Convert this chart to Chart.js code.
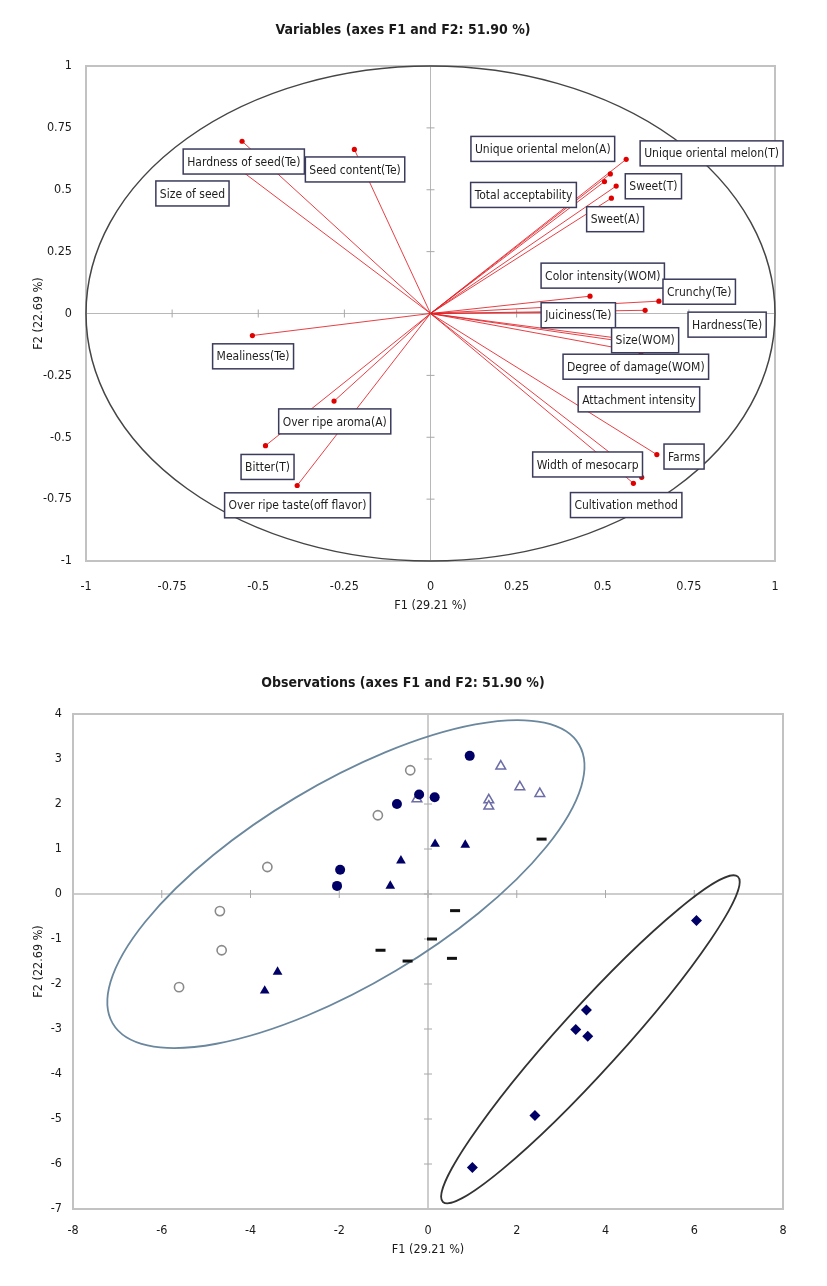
<!DOCTYPE html>
<html>
<head>
<meta charset="utf-8">
<script src="https://cdn.jsdelivr.net/npm/chart.js@4.4.0/dist/chart.umd.min.js"></script>
<style>
body{margin:0;background:#fff;}
#wrap{position:relative;width:827px;height:1286px;}
canvas{position:absolute;left:0;}
</style>
</head>
<body>
<div id="wrap">
<canvas id="kanvasUst" width="827" height="625" style="top:0"></canvas>
<canvas id="kanvasAlt" width="827" height="646" style="top:640px"></canvas>
</div>
<script>
// ---- correlation circle (variables) ----
var degiskenler = ["Hardness of seed(Te)","Seed content(Te)","Size of seed","Unique oriental melon(A)","Unique oriental melon(T)",
  "Total acceptability","Sweet(T)","Sweet(A)","Color intensity(WOM)","Crunchy(Te)","Juiciness(Te)","Hardness(Te)",
  "Size(WOM)","Degree of damage(WOM)","Attachment intensity","Farms","Width of mesocarp","Cultivation method",
  "Mealiness(Te)","Over ripe aroma(A)","Bitter(T)","Over ripe taste(off flavor)"];
var degF1 = [-0.547,-0.221,-0.600,0.522,0.568,0.505,0.539,0.525,0.463,0.663,0.437,0.623,0.655,0.611,0.693,0.657,0.613,0.589,-0.517,-0.280,-0.479,-0.387];
var degF2 = [0.696,0.663,0.630,0.564,0.623,0.533,0.515,0.466,0.070,0.050,0.005,0.013,-0.120,-0.157,-0.140,-0.570,-0.662,-0.686,-0.089,-0.354,-0.534,-0.695];
var etiketF1 = [-0.542,-0.219,-0.691,0.326,0.816,0.270,0.647,0.536,0.500,0.780,0.429,0.861,0.623,0.596,0.605,0.736,0.456,0.568,-0.515,-0.278,-0.473,-0.386];
var etiketF2 = [0.614,0.582,0.485,0.665,0.647,0.479,0.514,0.381,0.153,0.088,-0.007,-0.045,-0.108,-0.215,-0.347,-0.578,-0.610,-0.774,-0.173,-0.436,-0.620,-0.775];
var ustTikler = [-1,-0.75,-0.5,-0.25,0,0.25,0.5,0.75,1];
var ustTikEtiket = ["-1","-0.75","-0.5","-0.25","0","0.25","0.5","0.75","1"];

// ---- observations ----
var acikDaireF1 = [-0.40,-1.13,-3.62,-4.69,-4.65,-5.61];
var acikDaireF2 = [2.75,1.75,0.60,-0.38,-1.25,-2.07];
var doluDaireF1 = [0.94,-0.20,0.15,-0.70,-1.98,-2.05];
var doluDaireF2 = [3.07,2.21,2.15,2.00,0.54,0.18];
var acikUcgenF1 = [-0.25,1.64,2.07,2.52,1.37,1.37];
var acikUcgenF2 = [2.11,2.84,2.38,2.23,2.09,1.95];
var doluUcgenF1 = [0.16,0.84,-0.61,-0.85,-3.39,-3.68];
var doluUcgenF2 = [1.11,1.09,0.74,0.18,-1.73,-2.15];
var tireF1 = [2.56,0.61,0.09,0.54,-1.07,-0.46];
var tireF2 = [1.22,-0.37,-1.00,-1.43,-1.25,-1.49];
var karoF1 = [6.05,3.57,3.33,3.60,2.41,1.00];
var karoF2 = [-0.59,-2.58,-3.01,-3.16,-4.92,-6.08];
// confidence ellipses: centre, semi-axes, angle (deg)
var elipsMerkezF1 = [-1.85,3.66];
var elipsMerkezF2 = [0.22,-3.23];
var elipsA = [6.10,4.91];
var elipsB = [2.23,0.70];
var elipsAci = [30.5,47.4];
var altXTikler = [-8,-6,-4,-2,0,2,4,6,8];
var altXTikEtiket = ["-8","-6","-4","-2","0","2","4","6","8"];
var altYTikler = [-7,-6,-5,-4,-3,-2,-1,0,1,2,3,4];
var altYTikEtiket = ["-7","-6","-5","-4","-3","-2","-1","0","1","2","3","4"];

var baslikUst = "Variables (axes F1 and F2: 51.90 %)";
var baslikAlt = "Observations (axes F1 and F2: 51.90 %)";
var eksenF1 = "F1 (29.21 %)";
var eksenF2 = "F2 (22.69 %)";

var YAZI = "'Liberation Sans Narrow','DejaVu Sans Condensed','Liberation Sans',sans-serif";
var LACIVERT = "#000066";

function pt(f1,f2){ return f1.map(function(v,i){return {x:v,y:f2[i]};}); }

// frame + axes through the origin with little ticks
function cerceveEklenti(cizgiRenk,cizgiKalin){
  return {
    id:'cerceve',
    beforeDatasetsDraw:function(chart){
      var ctx=chart.ctx,a=chart.chartArea,x=chart.scales.x,y=chart.scales.y;
      var x0=x.getPixelForValue(0),y0=y.getPixelForValue(0);
      ctx.save();
      ctx.strokeStyle=cizgiRenk;ctx.lineWidth=cizgiKalin;
      ctx.beginPath();
      ctx.moveTo(a.left,y0);ctx.lineTo(a.right,y0);
      ctx.moveTo(x0,a.top);ctx.lineTo(x0,a.bottom);
      ctx.stroke();
      ctx.lineWidth=1;ctx.strokeStyle='#a8a8a8';
      ctx.beginPath();
      x.ticks.forEach(function(t){var p=x.getPixelForValue(t.value);ctx.moveTo(p,y0-4);ctx.lineTo(p,y0+4);});
      y.ticks.forEach(function(t){var p=y.getPixelForValue(t.value);ctx.moveTo(x0-4,p);ctx.lineTo(x0+4,p);});
      ctx.stroke();
      ctx.strokeStyle='#c2c2c2';ctx.lineWidth=2;
      ctx.strokeRect(a.left,a.top,a.right-a.left,a.bottom-a.top);
      ctx.restore();
    }
  };
}
function baslikEklenti(metin,yPos){
  return {
    id:'baslik',
    afterDraw:function(chart){
      var ctx=chart.ctx;
      ctx.save();
      ctx.font="bold 14px "+YAZI;ctx.fillStyle='#1a1a1a';
      ctx.textAlign='center';ctx.textBaseline='middle';
      ctx.fillText(metin,403,yPos);
      ctx.restore();
    }
  };
}

var daireEklenti = {
  id:'daire',
  beforeDatasetsDraw:function(chart){
    var ctx=chart.ctx,x=chart.scales.x,y=chart.scales.y;
    var cx=x.getPixelForValue(0),cy=y.getPixelForValue(0);
    ctx.save();
    ctx.strokeStyle='#454545';ctx.lineWidth=1.5;
    ctx.beginPath();
    ctx.ellipse(cx,cy,x.getPixelForValue(1)-cx,cy-y.getPixelForValue(1),0,0,Math.PI*2);
    ctx.stroke();
    ctx.restore();
  }
};
var etiketEklenti = {
  id:'etiket',
  afterDatasetsDraw:function(chart){
    var ctx=chart.ctx,x=chart.scales.x,y=chart.scales.y;
    ctx.save();
    ctx.font="12px "+YAZI;ctx.textAlign='center';ctx.textBaseline='middle';
    degiskenler.forEach(function(ad,i){
      var cx=x.getPixelForValue(etiketF1[i]),cy=y.getPixelForValue(etiketF2[i]);
      var w=ctx.measureText(ad).width+8,h=25;
      ctx.fillStyle='#fff';ctx.fillRect(cx-w/2,cy-h/2,w,h);
      ctx.strokeStyle='#3b3b5c';ctx.lineWidth=1.5;ctx.strokeRect(cx-w/2,cy-h/2,w,h);
      ctx.fillStyle='#1e1e1e';ctx.fillText(ad,cx,cy+1);
    });
    ctx.restore();
  }
};
var elipsEklenti = {
  id:'elips',
  beforeDatasetsDraw:function(chart){
    var ctx=chart.ctx,x=chart.scales.x,y=chart.scales.y,a=chart.chartArea;
    var renk=['#6a879d','#333333'];
    ctx.save();
    ctx.beginPath();ctx.rect(a.left,a.top,a.right-a.left,a.bottom-a.top);ctx.clip();
    elipsA.forEach(function(ea,i){
      var cx=x.getPixelForValue(elipsMerkezF1[i]),cy=y.getPixelForValue(elipsMerkezF2[i]);
      var sx=x.getPixelForValue(1)-x.getPixelForValue(0),sy=y.getPixelForValue(0)-y.getPixelForValue(1);
      ctx.save();
      ctx.translate(cx,cy);ctx.scale(sx,-sy);ctx.rotate(elipsAci[i]*Math.PI/180);
      ctx.beginPath();ctx.ellipse(0,0,ea,elipsB[i],0,0,Math.PI*2);
      ctx.restore();
      ctx.strokeStyle=renk[i];ctx.lineWidth=1.8;ctx.stroke();
    });
    ctx.restore();
  }
};

function eksen(min,max,tikler,etiketler,genislik,yukseklik,yatay,tikPad,baslikPad){
  var s={
    type:'linear',min:min,max:max,
    grid:{display:false,drawTicks:false},border:{display:false},
    afterBuildTicks:function(sc){sc.ticks=tikler.map(function(v){return {value:v};});},
    ticks:{padding:tikPad,color:'#1a1a1a',font:{family:YAZI,size:12.5},maxRotation:0,autoSkip:false,
      callback:function(v,i){return etiketler[i];}},
    title:{display:true,text:yatay?eksenF1:eksenF2,color:'#1a1a1a',font:{family:YAZI,size:12.5},padding:baslikPad}
  };
  if(yatay){s.position='bottom';s.afterFit=function(sc){sc.height=yukseklik;};}
  else{s.position='left';s.afterFit=function(sc){sc.width=genislik;};}
  return s;
}

// top chart: arrows from the origin to every variable
var okVerileri = degiskenler.map(function(ad,i){
  return {label:ad,data:[{x:0,y:0},{x:degF1[i],y:degF2[i]}],showLine:true,
    borderColor:'rgba(226,30,36,0.85)',borderWidth:1,
    pointRadius:[0,2.6],pointBackgroundColor:'#e00000',pointBorderWidth:0,pointHoverRadius:0};
});
new Chart(document.getElementById('kanvasUst'),{
  type:'scatter',
  data:{datasets:okVerileri},
  options:{
    responsive:false,animation:false,
    layout:{padding:{top:66,right:52,bottom:0,left:0}},
    plugins:{legend:{display:false},tooltip:{enabled:false}},
    scales:{
      x:eksen(-1,1,ustTikler,ustTikEtiket,0,64,true,18,{top:0,bottom:12}),
      y:eksen(-1,1,ustTikler,ustTikEtiket,86,0,false,14,{top:31,bottom:0})
    }
  },
  plugins:[cerceveEklenti('#b8b8b8',1),daireEklenti,etiketEklenti,baslikEklenti(baslikUst,30)]
});

// bottom chart: observations
new Chart(document.getElementById('kanvasAlt'),{
  type:'scatter',
  data:{datasets:[
    {label:'o',data:pt(acikDaireF1,acikDaireF2),pointStyle:'circle',pointRadius:4.6,borderWidth:1.6,borderColor:'#8a8a8a',backgroundColor:'#fff'},
    {label:'●',data:pt(doluDaireF1,doluDaireF2),pointStyle:'circle',pointRadius:5,borderWidth:0,backgroundColor:LACIVERT},
    {label:'△',data:pt(acikUcgenF1,acikUcgenF2),pointStyle:'triangle',pointRadius:5.6,borderWidth:1.5,borderColor:'#6c6ca6',backgroundColor:'#fff'},
    {label:'▲',data:pt(doluUcgenF1,doluUcgenF2),pointStyle:'triangle',pointRadius:5.6,borderWidth:0,backgroundColor:LACIVERT},
    {label:'-',data:pt(tireF1,tireF2),pointStyle:'line',pointRadius:5,borderWidth:3,borderColor:'#111'},
    {label:'◆',data:pt(karoF1,karoF2),pointStyle:'rectRot',pointRadius:5.5,borderWidth:0,backgroundColor:LACIVERT}
  ]},
  options:{
    responsive:false,animation:false,
    layout:{padding:{top:74,right:44,bottom:0,left:0}},
    plugins:{legend:{display:false},tooltip:{enabled:false}},
    scales:{
      x:eksen(-8,8,altXTikler,altXTikEtiket,0,77,true,14,{top:0,bottom:29}),
      y:eksen(-7,4,altYTikler,altYTikEtiket,73,0,false,11,{top:31,bottom:0})
    }
  },
  plugins:[cerceveEklenti('#cdcdcd',2),elipsEklenti,baslikEklenti(baslikAlt,43)]
});
</script>
</body>
</html>
